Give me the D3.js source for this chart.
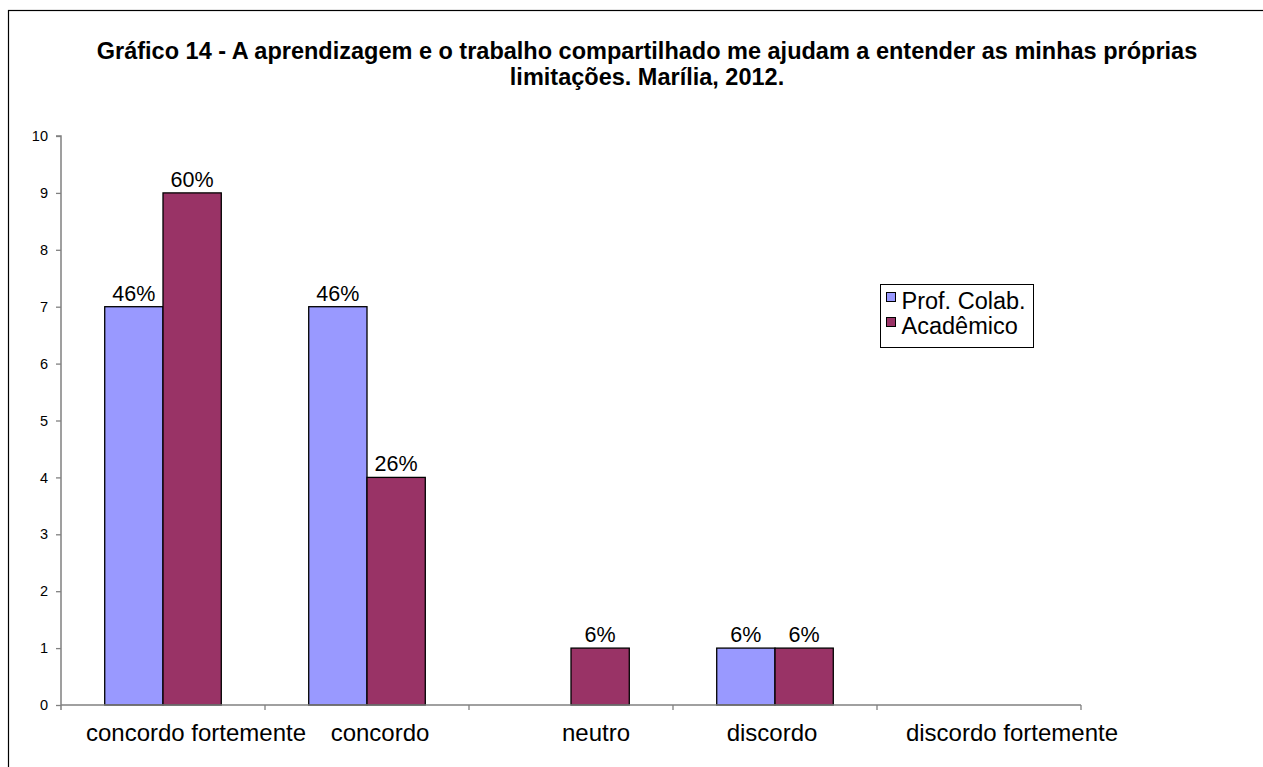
<!DOCTYPE html>
<html>
<head>
<meta charset="utf-8">
<script src="https://cdn.jsdelivr.net/npm/d3@7"></script>
<style>
  html, body { margin: 0; padding: 0; background: #fff; }
  svg { display: block; font-family: Arial, "Liberation Sans", sans-serif; }
</style>
</head>
<body>
<svg id="chart" width="1263" height="767"></svg>
<script>
// Categories, series and tick values
const categories = ["concordo fortemente", "concordo", "neutro", "discordo", "discordo fortemente"];
const seriesNames = ["Prof. Colab.", "Acadêmico"];
const profValues = [7, 7, 0, 1, 0];
const academicoValues = [9, 4, 1, 1, 0];
const profLabels = ["46%", "46%", null, "6%", null];
const academicoLabels = ["60%", "26%", "6%", "6%", null];
const yTicks = [0, 1, 2, 3, 4, 5, 6, 7, 8, 9, 10];
const colors = ["#9999FF", "#993366"];
const titleLines = [
  "Gráfico 14 - A aprendizagem e o trabalho compartilhado me ajudam a entender as minhas próprias",
  "limitações. Marília, 2012."
];

const svg = d3.select("#chart");

// Outer chart frame
svg.append("rect")
  .attr("x", 8.5).attr("y", 10.5)
  .attr("width", 1300).attr("height", 800)
  .attr("fill", "#fff").attr("stroke", "#000").attr("stroke-width", 1.2);

// Title
svg.append("g").selectAll("text").data(titleLines).join("text")
  .attr("x", 647).attr("y", (d, i) => 59 + i * 26)
  .attr("text-anchor", "middle")
  .attr("font-size", 23.5).attr("font-weight", "bold")
  .text(d => d);

const plot = { left: 61, right: 1081, top: 136, bottom: 705 };

const x0 = d3.scaleBand().domain(categories).range([plot.left, plot.right]).paddingInner(0).paddingOuter(0);
const y = d3.scaleLinear().domain([0, 10]).range([plot.bottom, plot.top]);

// Two bars per category, gap width 150% of a bar
const groupWidth = x0.bandwidth() * (2 / 3.5);
const barW = groupWidth / 2;
const groupOffset = (x0.bandwidth() - groupWidth) / 2;

const series = [profValues, academicoValues];
const seriesLabels = [profLabels, academicoLabels];

series.forEach((vals, s) => {
  svg.append("g").selectAll("rect")
    .data(categories.map((c, i) => ({ c, v: vals[i] })).filter(d => d.v > 0))
    .join("rect")
    .attr("x", d => x0(d.c) + groupOffset + s * barW)
    .attr("y", d => y(d.v))
    .attr("width", barW)
    .attr("height", d => y(0) - y(d.v))
    .attr("fill", colors[s])
    .attr("stroke", "#000").attr("stroke-width", 1.3);
});

// Value labels
series.forEach((vals, s) => {
  svg.append("g").selectAll("text")
    .data(categories.map((c, i) => ({ c, v: vals[i], t: seriesLabels[s][i] })).filter(d => d.t))
    .join("text")
    .attr("x", d => x0(d.c) + groupOffset + s * barW + barW / 2)
    .attr("y", d => y(d.v) - 6)
    .attr("text-anchor", "middle")
    .attr("font-size", 21.5)
    .text(d => d.t);
});

// Y axis
const yAxis = d3.axisLeft(y).tickValues(yTicks).tickSize(5).tickPadding(8).tickFormat(d3.format("d"));
const gy = svg.append("g").attr("transform", `translate(${plot.left},0)`).call(yAxis);
gy.select(".domain").attr("stroke", "#808080").attr("stroke-width", 1.5).attr("d", `M-5,${plot.top}H0V${plot.bottom + 5}`);
gy.selectAll(".tick line").attr("stroke", "#808080").attr("stroke-width", 1.3);
gy.selectAll(".tick text").attr("font-size", 14.5).attr("font-family", "Arial, 'Liberation Sans', sans-serif").attr("fill", "#000");

// X axis with boundary ticks between categories
const boundaries = categories.map(c => x0(c)).concat([plot.right]);
const gx = svg.append("g");
gx.append("line")
  .attr("x1", plot.left).attr("x2", plot.right)
  .attr("y1", plot.bottom).attr("y2", plot.bottom)
  .attr("stroke", "#808080").attr("stroke-width", 1.5);
gx.selectAll("line.tk").data(boundaries.slice(1)).join("line")
  .attr("class", "tk")
  .attr("x1", d => d).attr("x2", d => d)
  .attr("y1", plot.bottom).attr("y2", plot.bottom + 5)
  .attr("stroke", "#808080").attr("stroke-width", 1.3);

// Category labels sit slightly right of the band centres
const labelShift = [33, 13, 25, -3, 33];
gx.selectAll("text").data(categories).join("text")
  .attr("x", (d, i) => x0(d) + x0.bandwidth() / 2 + labelShift[i])
  .attr("y", 741)
  .attr("text-anchor", "middle")
  .attr("font-size", 24)
  .text(d => d);

// Legend
const legend = svg.append("g").attr("transform", "translate(880.5,284.5)");
legend.append("rect").attr("width", 153).attr("height", 63)
  .attr("fill", "#fff").attr("stroke", "#000").attr("stroke-width", 1);
seriesNames.forEach((name, i) => {
  legend.append("rect")
    .attr("x", 6).attr("y", 8 + i * 25)
    .attr("width", 9).attr("height", 9)
    .attr("fill", colors[i]).attr("stroke", "#000").attr("stroke-width", 1);
  legend.append("text")
    .attr("x", 21).attr("y", 24.5 + i * 25)
    .attr("font-size", 23.5)
    .text(name);
});
</script>
</body>
</html>
